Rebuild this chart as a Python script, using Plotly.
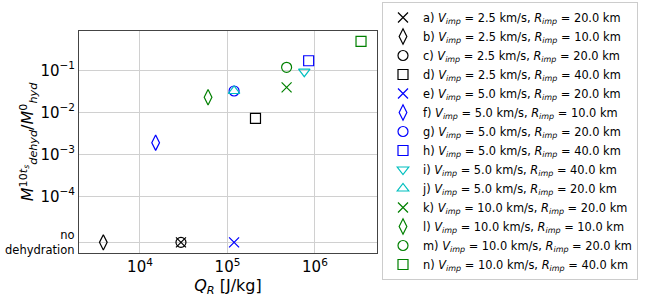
import math
import plotly.graph_objects as go

NO_DEHYD = 8e-6  # plotting level used for "no dehydration"

labels = ["a", "b", "c", "d", "e", "f", "g", "h", "i", "j", "k", "l", "m", "n"]
v_imp = ["2.5", "2.5", "2.5", "2.5", "5.0", "5.0", "5.0", "5.0", "5.0", "5.0", "10.0", "10.0", "10.0", "10.0"]
r_imp = ["20.0", "10.0", "20.0", "40.0", "20.0", "10.0", "20.0", "40.0", "40.0", "20.0", "20.0", "10.0", "20.0", "40.0"]
q_r = [2.94e4, 3.81e3, 2.94e4, 2.09e5, 1.19e5, 1.51e4, 1.19e5, 8.47e5, 7.55e5, 1.19e5, 4.74e5, 6.0e4, 4.74e5, 3.36e6]
m_ratio = [NO_DEHYD, NO_DEHYD, NO_DEHYD, 0.0072, NO_DEHYD, 0.00189, 0.0322, 0.169, 0.0926, 0.0322, 0.0394, 0.0228, 0.118, 0.49]
colors = ["#000000"] * 4 + ["#0000ff"] * 4 + ["#00bfbf"] * 2 + ["#008000"] * 4
symbols = ["x-thin-open", "diamond-tall-open", "circle-open", "square-open",
           "x-thin-open", "diamond-tall-open", "circle-open", "square-open",
           "triangle-down-open", "triangle-up-open",
           "x-thin-open", "diamond-tall-open", "circle-open", "square-open"]

ytick_vals = [NO_DEHYD, 1e-4, 1e-3, 1e-2, 1e-1]
ytick_text = ["", "10<sup>−4</sup>", "10<sup>−3</sup>", "10<sup>−2</sup>", "10<sup>−1</sup>"]
xtick_vals = [1e4, 1e5, 1e6]
xtick_text = ["10<sup>4</sup>", "10<sup>5</sup>", "10<sup>6</sup>"]

FONT = "DejaVu Sans"
fig = go.Figure()
for i in range(len(labels)):
    name = (f"{labels[i]}) <i>V</i><sub><i>imp</i></sub> = {v_imp[i]} km/s, "
            f"<i>R</i><sub><i>imp</i></sub> = {r_imp[i]} km")
    fig.add_trace(go.Scatter(
        x=[q_r[i]], y=[m_ratio[i]], mode="markers", name=name,
        marker=dict(symbol=symbols[i], size=10 if "diamond" not in symbols[i] else 11,
                    color=colors[i], line=dict(color=colors[i], width=1.2)),
    ))

fig.add_annotation(x=0, xref="paper", xanchor="right", xshift=-2,
                   y=math.log10(NO_DEHYD), yref="y", yanchor="middle",
                   text="no<br>dehydration", showarrow=False, align="right",
                   font=dict(family=FONT, size=11.5, color="#000"))

fig.update_layout(
    width=645, height=301,
    margin=dict(l=79, r=268, t=31, b=48, autoexpand=False),
    paper_bgcolor="white", plot_bgcolor="white",
    font=dict(family=FONT, color="#000"),
    legend=dict(xref="container", yref="container", x=382 / 645, xanchor="left",
                y=1 - 2 / 301, yanchor="top", maxheight=299,
                bordercolor="#cccccc", borderwidth=1,
                font=dict(family=FONT, size=11.4), tracegroupgap=0,
                itemwidth=30),
    showlegend=True,
)
fig.update_xaxes(type="log", range=[3.303, 6.709], automargin=False,
                 tickvals=xtick_vals, ticktext=xtick_text,
                 tickfont=dict(family=FONT, size=15),
                 showgrid=True, gridcolor="#d0d0d0", gridwidth=1,
                 showline=True, linecolor="#444", linewidth=1, mirror=True,
                 ticks="", zeroline=False,
                 title=dict(text="<i>Q</i><sub><i>R</i></sub> [J/kg]",
                            font=dict(family=FONT, size=16), standoff=0))
fig.update_yaxes(type="log", range=[-5.35, -0.064], automargin=False,
                 tickvals=ytick_vals, ticktext=ytick_text,
                 tickfont=dict(family=FONT, size=15),
                 showgrid=True, gridcolor="#d0d0d0", gridwidth=1,
                 showline=True, linecolor="#444", linewidth=1, mirror=True,
                 ticks="", zeroline=False,
                 title=dict(text="<i>M</i><sup>10<i>t</i><sub><i>s</i></sub></sup><sub><i>dehyd</i></sub>/<i>M</i><sup>0</sup><sub><i>hyd</i></sub>",
                            font=dict(family=FONT, size=16), standoff=2))

fig.write_html("out.html", config={"displayModeBar": False},
               post_script="document.body.style.margin='0';")
